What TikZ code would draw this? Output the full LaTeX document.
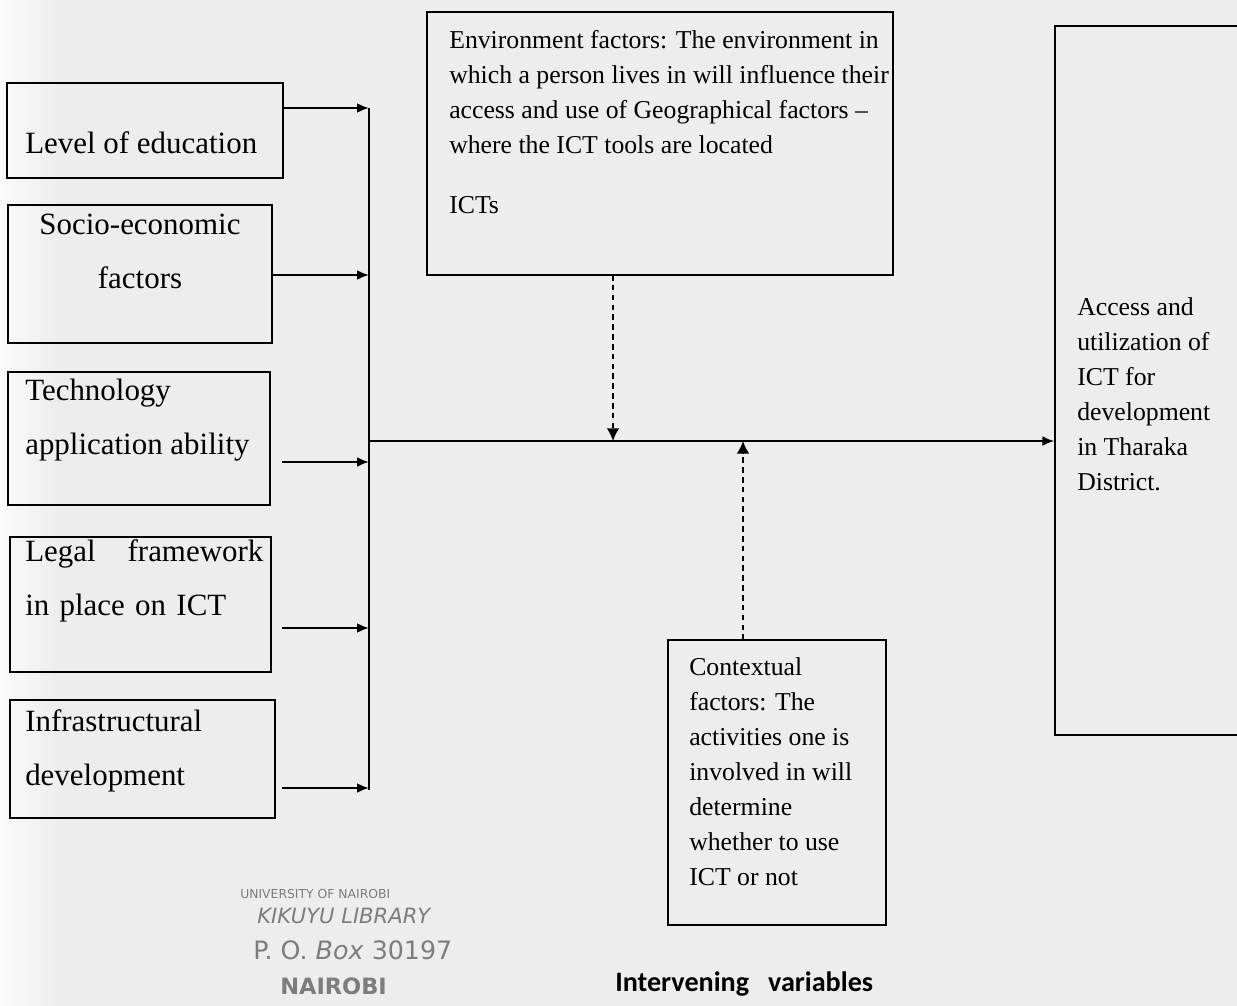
\documentclass[tikz,border=0pt]{standalone}
\usepackage{fontspec}
\setmainfont{Liberation Serif}
\newfontfamily\captionfont{Carlito}
\newfontfamily\stampfont{DejaVu Sans}
\usetikzlibrary{arrows.meta,fit}
\definecolor{paper}{RGB}{237,237,237}
\definecolor{stampgray}{RGB}{125,125,125}
\tikzset{
  factorbox/.style={draw,line width=1pt,inner sep=0pt},
  factortext/.style={anchor=north west,inner sep=0pt,align=left,font=\fontsize{22}{38.4}\selectfont},
  bodytext/.style={anchor=north west,inner sep=0pt,align=left,font=\fontsize{18.3}{24.9}\selectfont},
  feed/.style={line width=1.4pt,-{Latex[length=8.5pt,width=7pt]}},
  influence/.style={line width=1.2pt,dash pattern=on 4pt off 3pt,-{Latex[length=9pt,width=9pt]}},
  stampline/.style={inner sep=0pt,anchor=west,text=stampgray},
}
\begin{document}
\begin{tikzpicture}[x=0.025cm,y=-0.025cm]
  \useasboundingbox (0,0) rectangle (1237,1006);
  \clip (0,0) rectangle (1237,1006);
  \fill[paper] (0,0) rectangle (1237,1006);
  \shade[left color=black!2,right color=paper] (0,0) rectangle (60,1006);
  %% Independent variables
  \node[factorbox,fit={(7,83) (283,178)}] (edu) {};
  \node[factortext] (edutxt) at (25,131) {Level of education};
  \node[factorbox,fit={(8,205) (272,343)}] (socio) {};
  \node[factortext,anchor=north,align=center] (sociotxt) at (140,214) {Socio-economic\\factors};
  \node[factorbox,fit={(8,372) (270,505)}] (tech) {};
  \node[factortext] (techtxt) at (25,379) {Technology\\application ability};
  \node[factorbox,fit={(10,537) (271,672)}] (legal) {};
  \node[factortext,text width=5.95cm] (legaltxt) at (25,539) {Legal\hfill framework\\in place on ICT};
  \node[factorbox,fit={(10,700) (275,818)}] (infra) {};
  \node[factortext] (infratxt) at (25,709) {Infrastructural\\development};
  %% Intervening variables
  \node[factorbox,fit={(427,12) (893,275)}] (env) {};
  \node[bodytext] (envtxt) at (449,30) {Environment factors: The environment in\\which a person lives in will influence their\\access and use of Geographical factors --\\where the ICT tools are located\\[18pt]ICTs};
  \node[factorbox,fit={(668,640) (886,925)}] (ctx) {};
  \node[bodytext] (ctxtxt) at (689,657) {Contextual\\factors: The\\activities one is\\involved in will\\determine\\whether to use\\ICT or not};
  %% Dependent variable
  \node[factorbox,fit={(1055,26) (1260,735)}] (result) {};
  \node[bodytext] (resulttxt) at (1077,297) {Access and\\utilization of\\ICT for\\development\\in Tharaka\\District.};
  %% Connectors
  \coordinate (bustop) at (369,108);
  \coordinate (busbot) at (369,790);
  \coordinate (hub) at (369,441);
  \coordinate (edu-out) at (283,108);
  \coordinate (socio-out) at (272,275);
  \coordinate (tech-out) at (282,462);
  \coordinate (legal-out) at (282,628);
  \coordinate (infra-out) at (282,788);
  \draw[line width=1.4pt] (bustop) -- (busbot);
  \foreach \n in {edu,socio,tech,legal,infra}
    \draw[feed] (\n-out) -- (\n-out -| bustop);
  \draw[feed] (hub) -- (hub -| result.west);
  \coordinate (envfoot) at (613,275);
  \coordinate (ctxhead) at (743,640);
  \draw[influence] (envfoot) -- (envfoot |- hub);
  \draw[influence] (ctxhead) -- (ctxhead |- hub);
  \node[anchor=west,inner sep=0pt,font=\captionfont\bfseries\fontsize{20}{23}\selectfont] (caption) at (615,984) {Intervening\ \ \ variables};
  %% Library stamp
  \node[stampline,font=\stampfont\fontsize{8.8}{10}\selectfont] (stamp1) at (240,894) {UNIVERSITY OF NAIROBI};
  \node[stampline,font=\stampfont\itshape\fontsize{15}{17}\selectfont] (stamp2) at (257,916) {KIKUYU LIBRARY};
  \node[stampline,font=\stampfont\fontsize{18}{20}\selectfont] (stamp3) at (253,950) {P. O. \textit{Box} 30197};
  \node[stampline,font=\stampfont\bfseries\fontsize{16}{18}\selectfont] (stamp4) at (280,986) {NAIROBI};
\end{tikzpicture}
\end{document}
